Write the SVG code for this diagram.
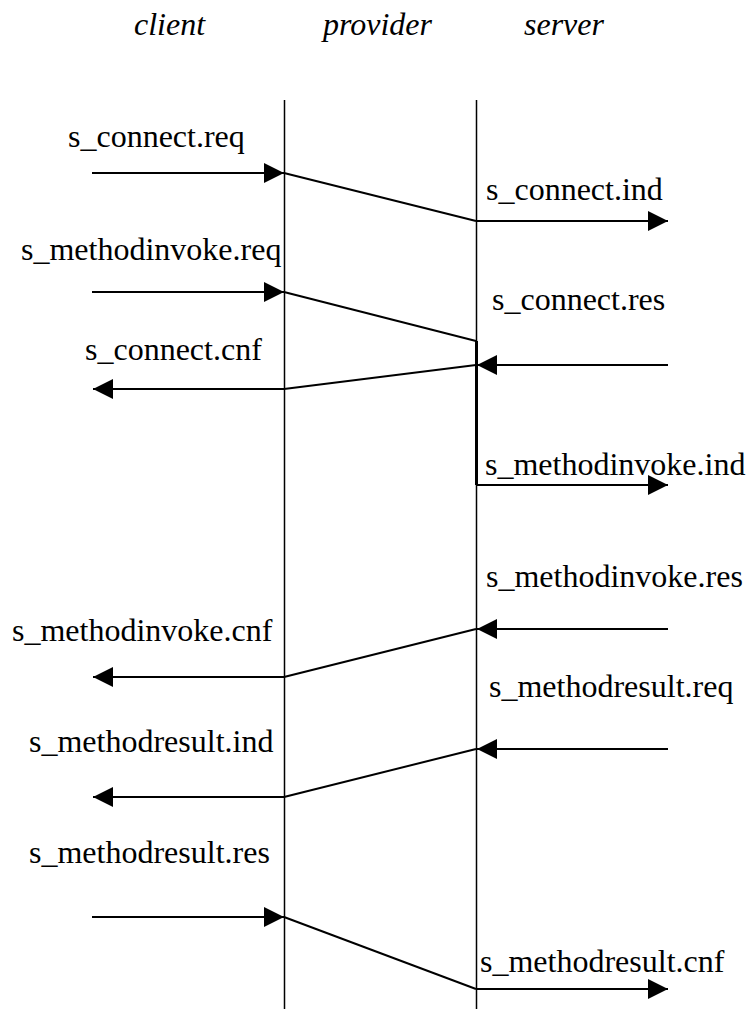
<svg xmlns="http://www.w3.org/2000/svg" width="747" height="1009" viewBox="0 0 747 1009">
<style>
  .hdr { font-family: "Liberation Serif", "Times New Roman", serif; font-size: 32px; font-style: italic; fill: #000; }
  .lbl { font-family: "Liberation Serif", "Times New Roman", serif; font-size: 32px; fill: #000; }
  .life { stroke: #000; stroke-width: 1.5; fill: none; }
  .msg { stroke: #000; stroke-width: 2; fill: none; }
  .arr { stroke: #000; stroke-width: 2; fill: none; marker-end: url(#ah); }
  .act { stroke: #000; stroke-width: 3; fill: none; }
</style>
<defs>
  <marker id="ah" markerUnits="userSpaceOnUse" markerWidth="20" markerHeight="20" refX="20" refY="10" orient="auto">
    <path d="M0,0 L20,10 L0,20 z" fill="#000"/>
  </marker>
</defs>
<rect width="747" height="1009" fill="#fff"/>
<g id="client">
  <text class="hdr" x="134" y="35">client</text>
</g>
<g id="provider">
  <text class="hdr" x="323" y="35">provider</text>
  <line class="life" x1="284.5" y1="100" x2="284.5" y2="1009"/>
</g>
<g id="server">
  <text class="hdr" x="524" y="35">server</text>
  <line class="life" x1="476.5" y1="100" x2="476.5" y2="1009"/>
  <line class="act" x1="476.5" y1="341" x2="476.5" y2="485"/>
</g>
<g id="connectors">
  <line class="arr" x1="92" y1="173" x2="284" y2="173"/>
  <line class="msg" x1="284" y1="173" x2="476" y2="221"/>
  <line class="arr" x1="476" y1="221" x2="668" y2="221"/>

  <line class="arr" x1="92" y1="292" x2="284" y2="292"/>
  <line class="msg" x1="284" y1="292" x2="476" y2="341"/>

  <line class="arr" x1="668" y1="365" x2="477" y2="365"/>
  <line class="msg" x1="476" y1="365" x2="284" y2="389"/>
  <line class="arr" x1="284" y1="389" x2="93" y2="389"/>

  <line class="arr" x1="476" y1="485" x2="668" y2="485"/>

  <line class="arr" x1="668" y1="629" x2="477" y2="629"/>
  <line class="msg" x1="476" y1="629" x2="284" y2="677"/>
  <line class="arr" x1="284" y1="677" x2="93" y2="677"/>

  <line class="arr" x1="668" y1="749" x2="477" y2="749"/>
  <line class="msg" x1="476" y1="749" x2="284" y2="797"/>
  <line class="arr" x1="284" y1="797" x2="93" y2="797"/>

  <line class="arr" x1="92" y1="917" x2="284" y2="917"/>
  <line class="msg" x1="284" y1="917" x2="476" y2="989"/>
  <line class="arr" x1="476" y1="989" x2="668" y2="989"/>
</g>
<g id="labels">
  <text class="lbl" x="68" y="147">s_connect.req</text>
  <text class="lbl" x="486" y="200">s_connect.ind</text>
  <text class="lbl" x="21" y="260">s_methodinvoke.req</text>
  <text class="lbl" x="492" y="310">s_connect.res</text>
  <text class="lbl" x="85" y="360">s_connect.cnf</text>
  <text class="lbl" x="485" y="475">s_methodinvoke.ind</text>
  <text class="lbl" x="486" y="587">s_methodinvoke.res</text>
  <text class="lbl" x="12" y="641">s_methodinvoke.cnf</text>
  <text class="lbl" x="489" y="697">s_methodresult.req</text>
  <text class="lbl" x="29" y="752">s_methodresult.ind</text>
  <text class="lbl" x="29" y="863">s_methodresult.res</text>
  <text class="lbl" x="480" y="972">s_methodresult.cnf</text>
</g>
</svg>
